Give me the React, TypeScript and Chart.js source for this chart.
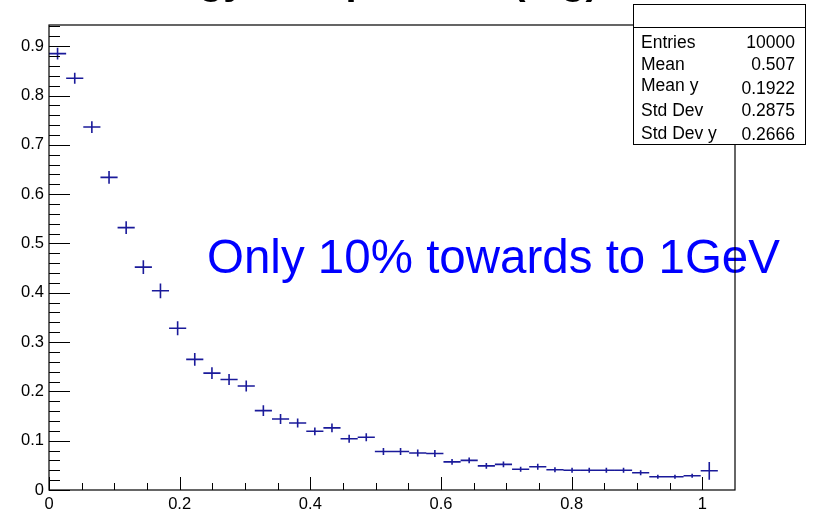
import React, { useEffect, useRef } from "react";
import { Chart, registerables } from "chart.js";

Chart.register(...registerables);

// ---- data ----
const binCenters = [
  0.0131, 0.0394, 0.0656, 0.0919, 0.1181, 0.1444, 0.1706, 0.1969, 0.2231, 0.2494,
  0.2756, 0.3019, 0.3281, 0.3544, 0.3806, 0.4069, 0.4331, 0.4594, 0.4856, 0.5119,
  0.5381, 0.5644, 0.5906, 0.6169, 0.6431, 0.6694, 0.6956, 0.7219, 0.7481, 0.7744,
  0.8006, 0.8269, 0.8531, 0.8794, 0.9056, 0.9319, 0.9581, 0.9844, 1.0106,
];
const binHalfWidth = 0.013125;
const values = [
  0.885, 0.835, 0.736, 0.634, 0.532, 0.452, 0.404, 0.328, 0.265, 0.237,
  0.224, 0.211, 0.161, 0.144, 0.136, 0.119, 0.126, 0.104, 0.107, 0.078,
  0.078, 0.075, 0.074, 0.057, 0.060, 0.049, 0.052, 0.042, 0.047, 0.041,
  0.040, 0.040, 0.040, 0.040, 0.035, 0.027, 0.027, 0.029, 0.039,
];
const errors = [
  0.012, 0.011, 0.012, 0.013, 0.013, 0.014, 0.015, 0.014, 0.013, 0.012,
  0.011, 0.011, 0.011, 0.010, 0.009, 0.008, 0.009, 0.008, 0.008, 0.007,
  0.007, 0.007, 0.007, 0.006, 0.006, 0.006, 0.006, 0.005, 0.006, 0.005,
  0.005, 0.005, 0.005, 0.005, 0.005, 0.004, 0.004, 0.004, 0.018,
];
const xMin = 0;
const xMax = 1.05;
const yMin = 0;
const yMax = 0.943;
const xMajorStep = 0.2;
const xMinorStep = 0.05;
const yMajorStep = 0.1;
const yMinorStep = 0.02;

const statsLabels = ["Entries", "Mean", "Mean y", "Std Dev", "Std Dev y"];
const statsValues = ["10000", "0.507", "0.1922", "0.2875", "0.2666"];
const titleText = "Energy Composition (log)";
const annotationText = "Only 10% towards to 1GeV";

const FONT = "'Liberation Sans', Arial, Helvetica, sans-serif";
const MARK_COLOR = "#1a1a9a";

const rootPlugin = {
  id: "rootStyle",
  afterDatasetsDraw(chart: any) {
    const { ctx, chartArea: a, scales } = chart;
    const x = scales.x;
    const y = scales.y;
    ctx.save();

    // histogram crosses (bin width horizontally, error vertically)
    ctx.strokeStyle = MARK_COLOR;
    ctx.lineWidth = 1.6;
    ctx.beginPath();
    values.forEach((v, i) => {
      const cx = x.getPixelForValue(binCenters[i]);
      const cy = y.getPixelForValue(v);
      const xl = x.getPixelForValue(binCenters[i] - binHalfWidth);
      const xr = x.getPixelForValue(binCenters[i] + binHalfWidth);
      ctx.moveTo(xl, cy);
      ctx.lineTo(xr, cy);
      ctx.moveTo(cx, y.getPixelForValue(v + errors[i]));
      ctx.lineTo(cx, y.getPixelForValue(v - errors[i]));
    });
    ctx.stroke();

    // annotation
    ctx.fillStyle = "#0000ff";
    ctx.font = `47.5px ${FONT}`;
    ctx.textAlign = "left";
    ctx.textBaseline = "alphabetic";
    ctx.fillText(annotationText, 207, 273);

    // frame
    ctx.strokeStyle = "#000";
    ctx.lineWidth = 1.2;
    ctx.strokeRect(a.left, a.top, a.right - a.left, a.bottom - a.top);

    // ticks (inside, ROOT style)
    ctx.lineWidth = 1;
    ctx.beginPath();
    const nY = Math.round((yMax - yMin) / yMinorStep);
    for (let i = 0; i <= nY; i++) {
      const v = yMin + i * yMinorStep;
      if (v > yMax + 1e-9) break;
      const major = Math.abs(v / yMajorStep - Math.round(v / yMajorStep)) < 1e-6;
      const py = Math.round(y.getPixelForValue(v)) + 0.5;
      ctx.moveTo(a.left, py);
      ctx.lineTo(a.left + (major ? 21 : 11), py);
    }
    const nX = Math.round((xMax - xMin) / xMinorStep);
    for (let i = 0; i <= nX; i++) {
      const v = xMin + i * xMinorStep;
      if (v > xMax - 1e-9) break;
      const major = Math.abs(v / xMajorStep - Math.round(v / xMajorStep)) < 1e-6;
      const px = Math.round(x.getPixelForValue(v)) + 0.5;
      ctx.moveTo(px, a.bottom);
      ctx.lineTo(px, a.bottom - (major ? 13 : 7));
    }
    ctx.stroke();

    // stats box
    const bl = 633, bt = 4, br = 805, bb = 144, sep = 27;
    ctx.fillStyle = "#fff";
    ctx.fillRect(bl, bt, br - bl, bb - bt);
    ctx.strokeStyle = "#000";
    ctx.lineWidth = 1;
    ctx.strokeRect(bl + 0.5, bt + 0.5, br - bl, bb - bt);
    ctx.beginPath();
    ctx.moveTo(bl, sep + 0.5);
    ctx.lineTo(br, sep + 0.5);
    ctx.stroke();
    ctx.fillStyle = "#000";
    ctx.font = `17.5px ${FONT}`;
    const labelBase = [48, 70, 91, 116, 139];
    const valueBase = [48, 70, 94, 116, 140];
    statsLabels.forEach((s, i) => {
      ctx.textAlign = "left";
      ctx.fillText(s, 641, labelBase[i]);
      ctx.textAlign = "right";
      ctx.fillText(statsValues[i], 795, valueBase[i]);
    });

    // title (mostly cut off at the top of the picture)
    ctx.font = `bold 40px ${FONT}`;
    ctx.textAlign = "left";
    ctx.textBaseline = "alphabetic";
    ctx.fillText(titleText, 110, -6);

    ctx.restore();
  },
};

export default function App() {
  const ref = useRef<HTMLCanvasElement | null>(null);
  useEffect(() => {
    document.body.style.margin = "0";
    const canvas = ref.current!;
    const fmt = (v: any) => {
      const n = Number(v);
      return n.toFixed(1).replace(/\.0$/, "");
    };
    const chart = new Chart(canvas, {
      type: "scatter",
      data: {
        datasets: [
          {
            data: values.map((v, i) => ({ x: binCenters[i], y: v })),
            pointRadius: 0,
            showLine: false,
            borderColor: MARK_COLOR,
          },
        ],
      },
      options: {
        animation: false,
        responsive: false,
        devicePixelRatio: 1,
        layout: { padding: { top: 25, right: 78, left: 0, bottom: 0 } },
        plugins: { legend: { display: false }, tooltip: { enabled: false }, title: { display: false } },
        scales: {
          x: {
            type: "linear",
            min: xMin,
            max: xMax,
            grid: { display: false, drawTicks: false },
            border: { display: false },
            ticks: {
              stepSize: xMajorStep,
              includeBounds: false,
              autoSkip: false,
              maxRotation: 0,
              padding: 5,
              color: "#000",
              font: { family: FONT, size: 16.5 },
              callback: fmt,
            },
            afterFit: (s: any) => {
              s.height = 22;
            },
          },
          y: {
            type: "linear",
            min: yMin,
            max: yMax,
            grid: { display: false, drawTicks: false },
            border: { display: false },
            ticks: {
              stepSize: yMajorStep,
              includeBounds: false,
              autoSkip: false,
              padding: 5,
              color: "#000",
              font: { family: FONT, size: 16.5 },
              callback: fmt,
            },
            afterFit: (s: any) => {
              s.width = 49;
            },
          },
        },
      },
      plugins: [rootPlugin],
    });
    return () => chart.destroy();
  }, []);
  return (
    <div style={{ position: "fixed", left: 0, top: 0, width: 813, height: 512, background: "#fff" }}>
      <canvas ref={ref} width={813} height={512} />
    </div>
  );
}
